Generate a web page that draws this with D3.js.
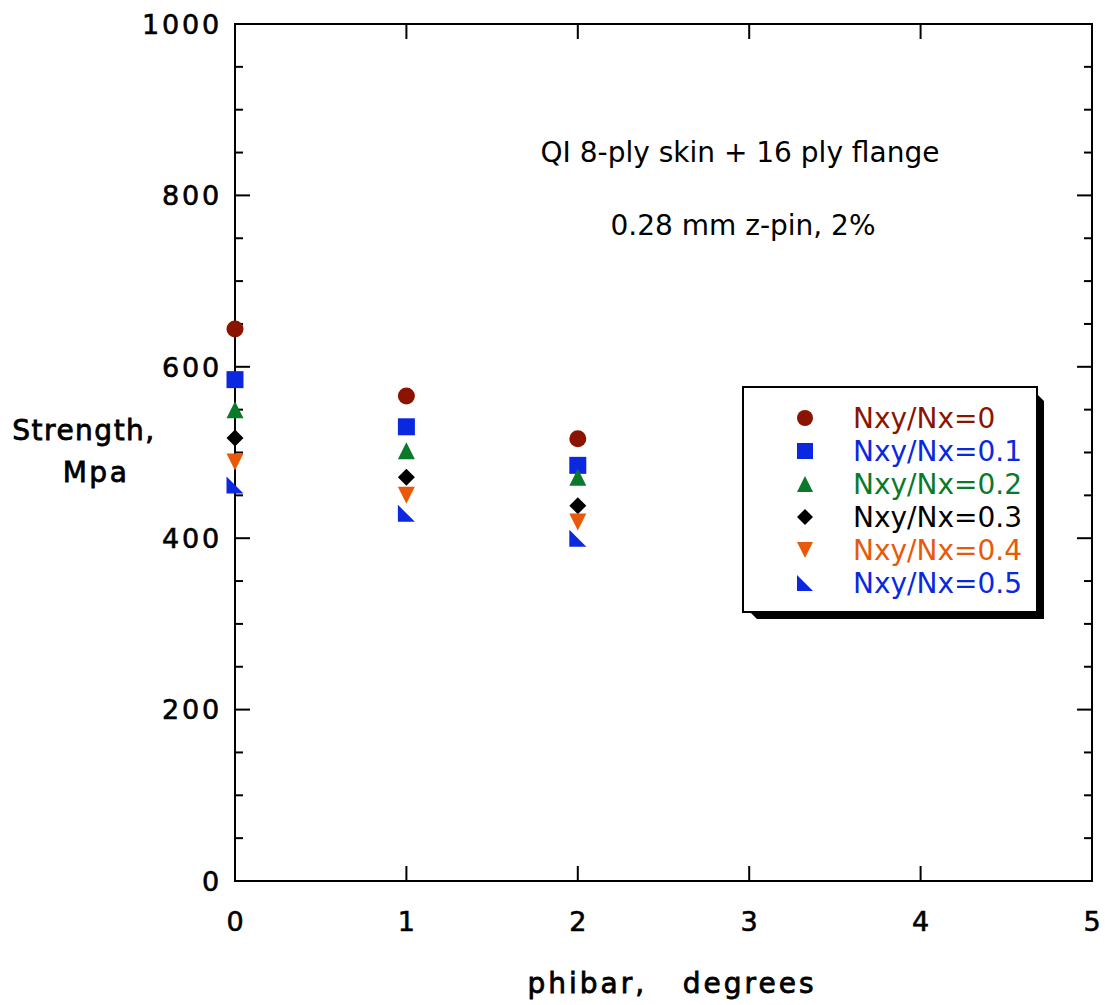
<!DOCTYPE html>
<html><head><meta charset="utf-8">
<script src="https://cdn.jsdelivr.net/npm/d3@7"></script>
<style>body{margin:0;background:#fff}text{font-family:"DejaVu Sans",Verdana,sans-serif}</style>
</head><body><svg id="c" width="1105" height="1005"></svg>
<script>
const xValues = [0, 1, 2];
const seriesNames = ["Nxy/Nx=0","Nxy/Nx=0.1","Nxy/Nx=0.2","Nxy/Nx=0.3","Nxy/Nx=0.4","Nxy/Nx=0.5"];
const s0 = [644, 566, 516];
const s1 = [585, 530, 485];
const s2 = [550, 502, 471];
const s3 = [517, 471, 438];
const s4 = [489, 450, 419];
const s5 = [462, 429, 400];
const seriesValues = [s0, s1, s2, s3, s4, s5];
const seriesColors = ["#8a1400","#0a28e0","#0a7a2a","#000000","#e85a0a","#0a28e0"];
const seriesShapes = ["circle","square","triangle","diamond","down","corner"];
const xTicks = [0,1,2,3,4,5];
const yTicks = [0,200,400,600,800,1000];
const yMinor = d3.range(0, 1001, 50);

const svg = d3.select("#c");
const L=235,R=1092,T=24,B=881;
const x = d3.scaleLinear().domain([0,5]).range([L,R]);
const y = d3.scaleLinear().domain([0,1000]).range([B,T]);

svg.append("rect").attr("x",L).attr("y",T).attr("width",R-L).attr("height",B-T)
  .attr("fill","none").attr("stroke","#000").attr("stroke-width",2);

const g = svg.append("g").attr("stroke","#000").attr("stroke-width",2);
yMinor.forEach(v=>{
  const major = yTicks.includes(v);
  const len = major?15:8;
  g.append("line").attr("x1",L).attr("x2",L+len).attr("y1",y(v)).attr("y2",y(v));
  g.append("line").attr("x1",R).attr("x2",R-len).attr("y1",y(v)).attr("y2",y(v));
});
xTicks.forEach(v=>{
  g.append("line").attr("x1",x(v)).attr("x2",x(v)).attr("y1",B).attr("y2",B-15);
  g.append("line").attr("x1",x(v)).attr("x2",x(v)).attr("y1",T).attr("y2",T+15);
});

svg.append("g").selectAll("text").data(yTicks).join("text")
  .attr("x",L-13).attr("y",d=>y(d)).attr("dy","0.36em").attr("text-anchor","end")
  .attr("font-size",27).attr("letter-spacing",2.8).attr("stroke","#000").attr("stroke-width",0.6).text(d=>d);
svg.append("g").selectAll("text").data(xTicks).join("text")
  .attr("x",d=>x(d)).attr("y",B+40).attr("dy","0.36em").attr("text-anchor","middle")
  .attr("font-size",27).attr("stroke","#000").attr("stroke-width",0.6).text(d=>d);

svg.append("text").attr("x",672).attr("y",993).attr("text-anchor","middle")
  .attr("font-size",28).attr("stroke","#000").attr("stroke-width",0.8).attr("letter-spacing",3).attr("xml:space","preserve").text("phibar,   degrees");
svg.append("text").attr("x",84).attr("y",440).attr("text-anchor","middle")
  .attr("font-size",28).attr("stroke","#000").attr("stroke-width",0.8).attr("letter-spacing",1.5).text("Strength,");
svg.append("text").attr("x",96).attr("y",482).attr("text-anchor","middle")
  .attr("font-size",28).attr("stroke","#000").attr("stroke-width",0.8).attr("letter-spacing",2.5).text("Mpa");

svg.append("text").attr("x",740).attr("y",162).attr("text-anchor","middle")
  .attr("font-size",28).text("QI 8-ply skin + 16 ply flange");
svg.append("text").attr("x",743).attr("y",235).attr("text-anchor","middle")
  .attr("font-size",28).text("0.28 mm z-pin, 2%");

function shapePath(shape, s){
  const h=s/2;
  switch(shape){
    case "circle": return d3.symbol(d3.symbolCircle, Math.PI*h*h)();
    case "square": return `M${-h},${-h}H${h}V${h}H${-h}Z`;
    case "triangle": return `M0,${-h}L${h},${h}L${-h},${h}Z`;
    case "down": return `M${-h},${-h}L${h},${-h}L0,${h}Z`;
    case "diamond": return `M0,${-h}L${h},0L0,${h}L${-h},0Z`;
    case "corner": return `M${-h},${-h}L${h},${h}L${-h},${h}Z`;
  }
}

seriesValues.forEach((vals,i)=>{
  svg.append("g").selectAll("path").data(vals).join("path")
    .attr("transform",(d,j)=>`translate(${x(xValues[j])},${y(d)})`)
    .attr("d",shapePath(seriesShapes[i],17)).attr("fill",seriesColors[i]);
});

const lx=743, ly=387, lw=294, lh=225, sh=7;
svg.append("path").attr("d",`M${lx+sh},${ly+lh}L${lx+sh+ sh},${ly+lh+sh}H${lx+lw+sh}V${ly+sh+sh}L${lx+lw},${ly+sh}V${ly+lh}Z`)
  .attr("fill","#000");
svg.append("rect").attr("x",lx).attr("y",ly).attr("width",lw).attr("height",lh)
  .attr("fill","#fff").attr("stroke","#000").attr("stroke-width",2);
seriesNames.forEach((n,i)=>{
  const yy=ly+31+i*33;
  svg.append("path").attr("transform",`translate(${lx+62},${yy})`)
    .attr("d",shapePath(seriesShapes[i],16)).attr("fill",seriesColors[i]);
  svg.append("text").attr("x",lx+110).attr("y",yy).attr("dy","0.36em")
    .attr("font-size",28).attr("fill",seriesColors[i]).text(n);
});
</script></body></html>
